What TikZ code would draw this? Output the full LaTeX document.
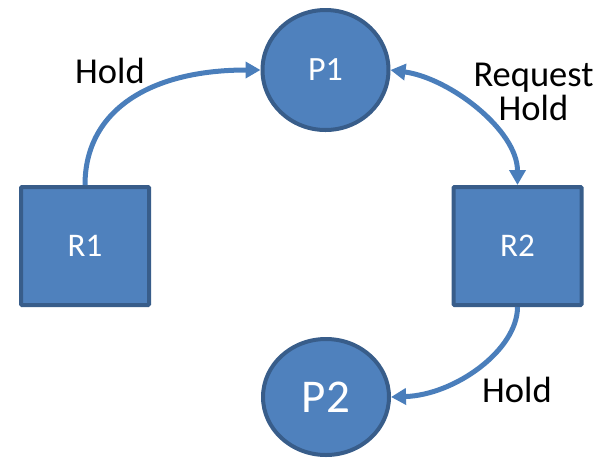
\documentclass[tikz,border=0pt]{standalone}
\usepackage{fontspec}
\setmainfont{Carlito}
\usetikzlibrary{arrows.meta,shapes.geometric}
\definecolor{fillblue}{HTML}{4F81BD}
\definecolor{edgeblue}{HTML}{385D8A}
\definecolor{lineblue}{HTML}{4A7EBB}
\begin{document}
\begin{tikzpicture}[x=1pt,y=-1pt,
  proc/.style={ellipse, draw=edgeblue, fill=fillblue, line width=4pt,
    minimum width=126pt, minimum height=120pt, inner sep=0pt,
    text=white, font=\fontsize{34}{40}\selectfont},
  res/.style={rectangle, draw=edgeblue, fill=fillblue, line width=4pt,
    minimum width=128pt, minimum height=118pt, rounded corners=1pt,
    text=white, font=\fontsize{33}{40}\selectfont},
  conn/.style={draw=lineblue, line width=5pt, -{Triangle[length=15pt,width=16pt]}},
  bconn/.style={draw=lineblue, line width=5pt, {Triangle[length=15pt,width=16pt]}-{Triangle[length=15pt,width=16pt]}},
  lbl/.style={font=\fontsize{36.5}{37}\selectfont, text=black, inner sep=0pt, anchor=base}]
\useasboundingbox (0,0) rectangle (606,459);
\node[proc] (P1) at (325.5,70) {P1};
\node[proc, minimum height=116pt, font=\fontsize{47}{54}\selectfont] (P2) at (326,397) {P2};
\node[res] (R1) at (85,246) {R1};
\node[res] (R2) at (517.5,246) {R2};
\draw[conn] (R1.north) .. controls +(0,-75) and +(-110,0) .. (P1.west);
\draw[bconn] (P1.east) .. controls +(59,8) and +(0,-55) .. (R2.north);
\draw[conn] (R2.south) .. controls +(0,43) and +(64,-2) .. (P2.east);
\node[lbl] (hold1) at (110,83) {Hold};
\node[lbl] (req) at (533.5,86) {Request};
\node[lbl] (hold2) at (533.5,120) {Hold};
\node[lbl] (hold3) at (517,402) {Hold};
\end{tikzpicture}
\end{document}
